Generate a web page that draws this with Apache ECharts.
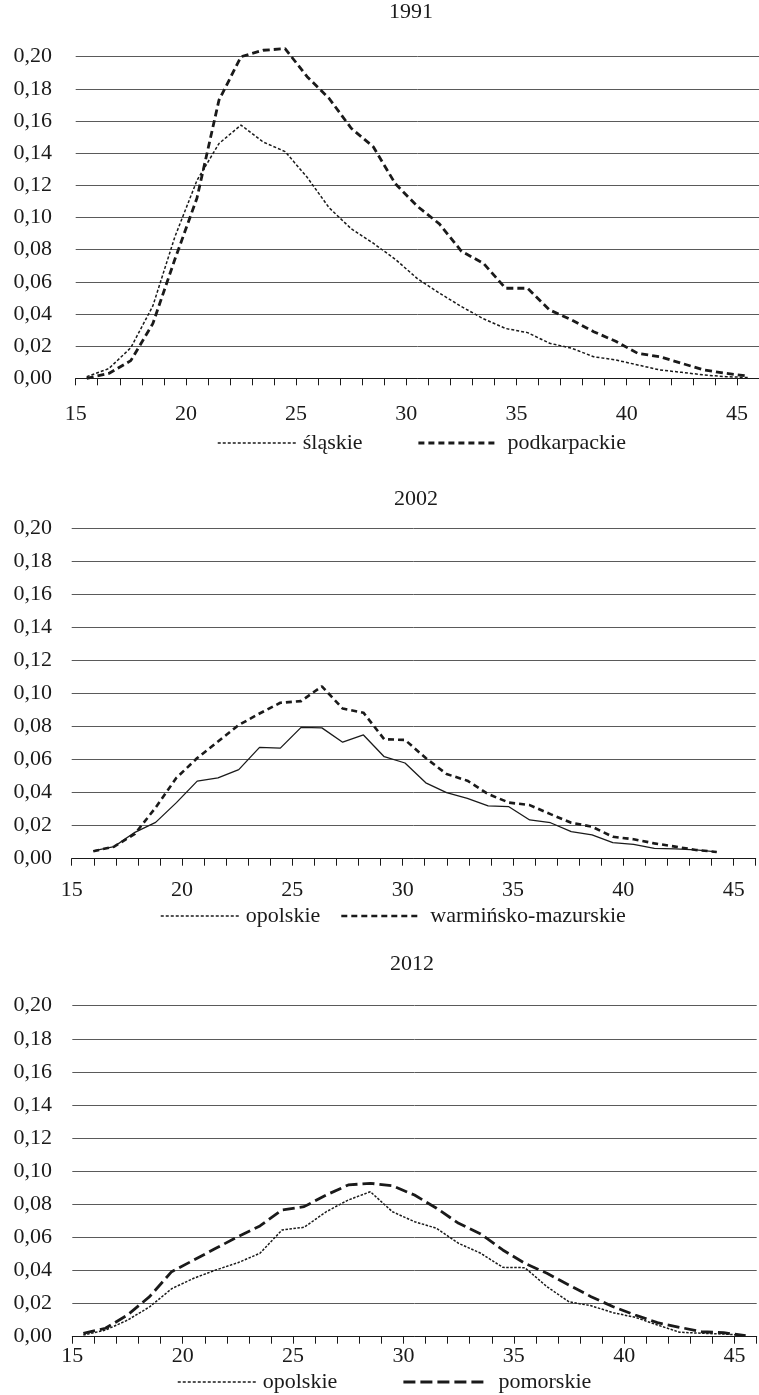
<!DOCTYPE html>
<html>
<head>
<meta charset="utf-8">
<script src="https://cdn.jsdelivr.net/npm/echarts@6/dist/echarts.min.js"></script>
<style>html,body{margin:0;padding:0;background:#fff}#c{width:759px;height:1395px}</style>
</head>
<body>
<div id="c"></div>
<script>
// ---- data ----
const ages = ['15','16','17','18','19','20','21','22','23','24','25','26','27','28','29','30',
              '31','32','33','34','35','36','37','38','39','40','41','42','43','44','45'];
const titles = ['1991', '2002', '2012'];
const yTicks = [0, 0.02, 0.04, 0.06, 0.08, 0.10, 0.12, 0.14, 0.16, 0.18, 0.20];
const xTickLabels = [15, 20, 25, 30, 35, 40, 45];

const slaskie1991 = [0.001,0.006,0.019,0.045,0.088,0.123,0.146,0.1575,0.147,0.141,0.125,0.106,0.093,0.084,0.074,0.062,
                     0.053,0.0446,0.037,0.031,0.0284,0.0218,0.0187,0.0134,0.0114,0.0083,0.0052,0.0037,0.0021,0.001,0.0005];
const podkarpackie1991 = [0.000,0.003,0.011,0.034,0.074,0.112,0.173,0.200,0.204,0.205,0.1876,0.174,0.1555,0.144,0.121,0.107,
                          0.096,0.079,0.0715,0.056,0.056,0.0425,0.0363,0.029,0.023,0.0155,0.0134,0.0093,0.0052,0.0031,0.0014];
const opolskie2002 = [0.0047,0.0073,0.016,0.022,0.034,0.047,0.049,0.054,0.0675,0.067,0.0796,0.0793,0.0706,0.075,0.0618,0.058,
                      0.046,0.040,0.0366,0.032,0.0315,0.0235,0.0218,0.0164,0.0144,0.0097,0.0087,0.0063,0.0059,0.0053,0.0041];
const warminsko2002 = [0.0045,0.0073,0.015,0.031,0.049,0.061,0.071,0.081,0.088,0.0945,0.0955,0.1045,0.091,0.0885,0.0724,0.072,
                       0.061,0.0513,0.0473,0.0392,0.034,0.0325,0.027,0.0218,0.0194,0.0133,0.0118,0.0093,0.0073,0.0053,0.0041];
const opolskie2012 = [0.001,0.004,0.010,0.018,0.029,0.0353,0.0403,0.0447,0.0504,0.0645,0.0661,0.0755,0.0826,0.0876,0.0755,0.0695,
                      0.0655,0.0564,0.0504,0.0419,0.0417,0.0302,0.0211,0.0187,0.0145,0.0117,0.0071,0.0027,0.0021,0.0016,0.0008];
const pomorskie2012 = [0.002,0.0051,0.0131,0.0242,0.0393,0.0463,0.0534,0.0604,0.0669,0.0766,0.0786,0.0856,0.0917,0.0927,0.0912,0.0856,
                       0.0776,0.0685,0.0621,0.0524,0.0443,0.0383,0.0312,0.0242,0.0181,0.0131,0.0085,0.0057,0.003,0.0024,0.0006];

// ---- styling ----
const FONT = "'Liberation Serif','Times New Roman',serif";
const INK = '#1a1a1a';
const FS = 22;

const chart = echarts.init(document.getElementById('c'), null, {renderer: 'canvas'});

function visX(gridIndex, labelMargin) {
  return {
    type: 'value', gridIndex, min: 15, max: 46, interval: 1,
    axisLine: {show: true, onZero: false, lineStyle: {color: INK, width: 1}},
    axisTick: {show: true, inside: false, length: 7, lineStyle: {color: INK, width: 1}},
    axisLabel: {show: true, margin: labelMargin, fontFamily: FONT, fontSize: FS, color: INK,
      formatter: v => xTickLabels.indexOf(v) >= 0 ? String(v) : ''},
    splitLine: {show: false}
  };
}
function hidX(gridIndex, gap) {
  return {type: 'category', gridIndex, data: ages, boundaryGap: gap, show: false,
          axisLine: {show: false}, axisTick: {show: false}, axisLabel: {show: false}, splitLine: {show: false}};
}
function visY(gridIndex, margin) {
  return {
    type: 'value', gridIndex, min: yTicks[0], max: yTicks[yTicks.length - 1], interval: 0.02,
    axisLine: {show: false}, axisTick: {show: false},
    axisLabel: {margin, fontFamily: FONT, fontSize: FS, color: INK,
      formatter: v => v.toFixed(2).replace('.', ',')},
    splitLine: {show: true, lineStyle: {color: '#5a5a5a', width: 1}}
  };
}
function lineSeries(name, data, xi, yi, width, type) {
  return {name, type: 'line', data, xAxisIndex: xi, yAxisIndex: yi, symbol: 'none', showSymbol: false,
          clip: false, smooth: false, animation: false,
          lineStyle: {color: INK, width, type}, itemStyle: {color: INK}, emphasis: {disabled: true}};
}
function legendItem(name, left, top, width, type, textPad) {
  return {data: [name], left, top, orient: 'horizontal', itemWidth: 80, itemHeight: 2, itemGap: 0, padding: 0,
          selectedMode: false,
          textStyle: {fontFamily: FONT, fontSize: FS, color: INK, padding: [0, 0, 0, textPad || 0]},
          lineStyle: {color: INK, width, type}, itemStyle: {opacity: 0, color: INK}};
}

const option = {
  backgroundColor: '#fff',
  animation: false,
  grid: [
    {left: 75.7, right: 0, top: 56.7, height: 321.6, outerBoundsMode: 'none', containLabel: false},
    {left: 71.7, right: 3.3, top: 528.7, height: 330, outerBoundsMode: 'none', containLabel: false},
    {left: 93.3, right: 42.3, top: 528.7, height: 330, outerBoundsMode: 'none', containLabel: false},
    {left: 72.3, right: 2.3, top: 1005.7, height: 331, outerBoundsMode: 'none', containLabel: false}
  ],
  xAxis: [visX(0, 25), hidX(0, true), visX(1, 21), hidX(2, false), visX(3, 9), hidX(3, true)],
  yAxis: [visY(0, 23.7), visY(1, 19.7),
          {type: 'value', gridIndex: 2, min: 0, max: 0.2, show: false, splitLine: {show: false}},
          visY(3, 20.3)],
  series: [
    lineSeries('śląskie', slaskie1991, 1, 0, 1.5, [3, 2]),
    lineSeries('podkarpackie', podkarpackie1991, 1, 0, 2.8, [7, 4]),
    lineSeries('opolskie', opolskie2002, 3, 2, 1.3, 'solid'),
    lineSeries('warmińsko-mazurskie', warminsko2002, 3, 2, 2.6, [6, 4]),
    lineSeries('opolskie', opolskie2012, 5, 3, 1.5, [2.5, 1.5]),
    lineSeries('pomorskie', pomorskie2012, 5, 3, 2.8, [12, 5])
  ],
  legend: [
    legendItem('śląskie', 217, 432, 1.5, [3, 2]),
    legendItem('podkarpackie', 417, 432, 2.8, [6, 4], 4),
    legendItem('opolskie', 160, 905, 1.5, [3, 2]),
    legendItem('warmińsko-mazurskie', 340, 905, 2.6, [6, 4], 4),
    legendItem('opolskie', 177, 1371, 1.5, [3, 2]),
    legendItem('pomorskie', 402, 1371, 2.8, [12, 5], 10)
  ],
  graphic: [
    {type: 'text', x: 411, y: 12, style: {text: titles[0], x: 0, y: 0, textAlign: 'center', textVerticalAlign: 'middle', font: FS + 'px ' + FONT, fill: INK}},
    {type: 'text', x: 416, y: 499, style: {text: titles[1], x: 0, y: 0, textAlign: 'center', textVerticalAlign: 'middle', font: FS + 'px ' + FONT, fill: INK}},
    {type: 'text', x: 412, y: 964, style: {text: titles[2], x: 0, y: 0, textAlign: 'center', textVerticalAlign: 'middle', font: FS + 'px ' + FONT, fill: INK}}
  ]
};
chart.setOption(option);
</script>
</body>
</html>
